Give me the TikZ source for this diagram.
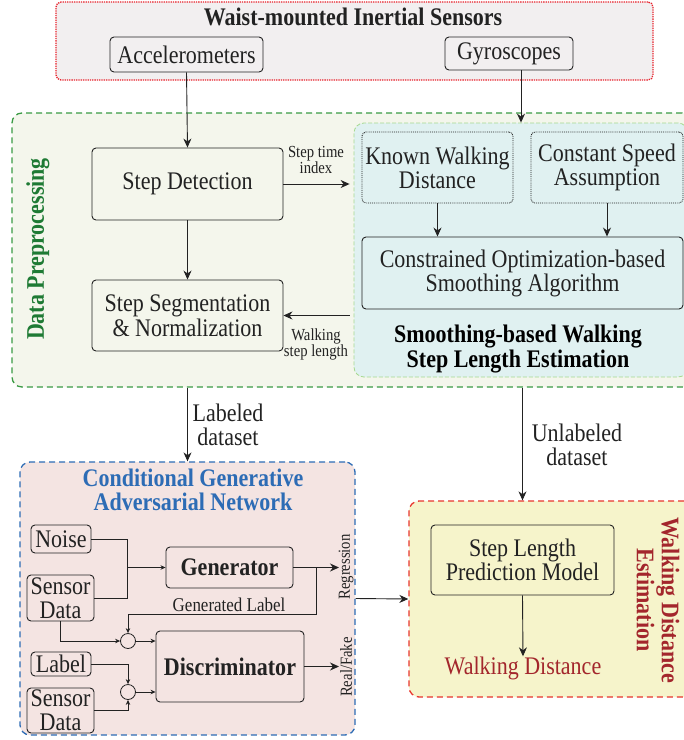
\documentclass[tikz,border=0pt]{standalone}
\usepackage{fontspec}
% Times-metric serif, set slightly condensed so the letters stand taller
\setmainfont{Liberation Serif}[FakeStretch=0.87]
\usetikzlibrary{arrows.meta}

\definecolor{sensfill}{HTML}{F2EFF0}
\definecolor{sensdraw}{HTML}{E8202A}
\definecolor{dpfill}{HTML}{F4F6EC}
\definecolor{dpdraw}{HTML}{3A9A44}
\definecolor{dptext}{HTML}{1E7A34}
\definecolor{smfill}{HTML}{E0F1F1}
\definecolor{smdraw}{HTML}{A6D98F}
\definecolor{cgfill}{HTML}{F4E4E2}
\definecolor{cgdraw}{HTML}{2D6CB5}
\definecolor{wdfill}{HTML}{F6F4CB}
\definecolor{wddraw}{HTML}{E8352D}
\definecolor{wdtext}{HTML}{A3262C}
\definecolor{ink}{HTML}{222222}

\newcommand\bigsize{\fontsize{25.3}{24}\selectfont}
\newcommand\smallsize{\fontsize{16.9}{16}\selectfont}

\tikzset{
  big/.style={font=\bigsize},
  bigbf/.style={font=\bigsize\bfseries},
  small/.style={font=\smallsize},
  frame/.style={rounded corners=10pt, line width=1.3pt, dash pattern=on 6pt off 4pt, inner sep=0pt},
  box/.style={draw=ink, rounded corners=4pt, line width=0.9pt, align=center, inner sep=0pt, big, text=ink},
  dotbox/.style={box, densely dotted, line width=0.9pt},
  arr/.style={draw=ink, line width=0.9pt, -{Stealth[length=9pt,width=8pt]}},
  sarr/.style={draw=ink, line width=0.8pt, -{Stealth[length=5pt,width=4.5pt]}},
  wire/.style={draw=ink, line width=0.8pt},
  lbl/.style={text=ink, align=center, inner sep=0pt},
  junc/.style={circle, draw=ink, line width=0.8pt, minimum size=15pt, inner sep=0pt},
}

\begin{document}
\begin{tikzpicture}[x=1pt,y=-1pt]
\useasboundingbox (0,0) rectangle (684,740);
\clip (0,0) rectangle (684,740);

% ---- group frames ----
\node[frame, draw=sensdraw, fill=sensfill, densely dotted, rounded corners=5pt,
      minimum width=597pt, minimum height=78pt] (sens) at (354.5,41) {};
\node[frame, draw=dpdraw, fill=dpfill, minimum width=680pt, minimum height=274pt] (dp) at (352,250) {};
\node[frame, draw=smdraw, fill=smfill, line width=0.8pt, dash pattern=on 4pt off 2pt,
      minimum width=334pt, minimum height=254pt] (smooth) at (521,250) {};
\node[frame, draw=cgdraw, fill=cgfill, minimum width=335pt, minimum height=273pt] (cgan) at (187.5,598.5) {};
\node[frame, draw=wddraw, fill=wdfill, minimum width=285pt, minimum height=196pt] (wde) at (551.5,599) {};

% ---- group titles ----
\node[lbl, bigbf] (senst) at (353,17) {Waist-mounted Inertial Sensors};
\node[lbl, bigbf, text=dptext, rotate=90] (dpt) at (38,249) {Data Preprocessing};
\node[lbl, font=\fontsize{25.3}{23}\selectfont\bfseries, text=black] (smt) at (518,349) {Smoothing-based Walking\\Step Length Estimation};
\node[lbl, bigbf, text=cgdraw] (cgt) at (193,490) {Conditional Generative\\Adversarial Network};
\node[lbl, font=\fontsize{25.3}{25}\selectfont\bfseries, text=wdtext, rotate=-90] (wdt) at (658,600) {Walking Distance\\Estimation};

% ---- sensors ----
\node[box, minimum width=153pt, minimum height=35pt] (acc) at (186.5,54.5) {Accelerometers};
\node[box, minimum width=128pt, minimum height=33pt] (gyro) at (509,53.5) {Gyroscopes};

% ---- preprocessing ----
\node[box, minimum width=191pt, minimum height=72pt] (sdet) at (187.5,184) {Step Detection};
\node[box, minimum width=191pt, minimum height=71pt, font=\fontsize{25.3}{25}\selectfont] (sseg) at (187.5,315.5) {Step Segmentation\\\& Normalization};

% ---- smoothing ----
\node[dotbox, minimum width=151pt, minimum height=71pt] (known) at (437.5,167.5) {Known Walking\\Distance};
\node[dotbox, minimum width=152pt, minimum height=71pt] (const) at (607,167.5) {Constant Speed\\Assumption};
\node[box, minimum width=321pt, minimum height=72pt] (copt) at (522.5,273) {Constrained Optimization-based\\Smoothing Algorithm};

% ---- CGAN ----
\node[box, minimum width=60pt, minimum height=28pt] (noise) at (61,539) {Noise};
\node[box, minimum width=67pt, minimum height=46pt] (sd1) at (60.5,598) {Sensor\\Data};
\node[box, minimum width=60pt, minimum height=24pt] (label) at (61,664) {Label};
\node[box, minimum width=67pt, minimum height=45pt] (sd2) at (60.5,710.5) {Sensor\\Data};
\node[box, minimum width=127pt, minimum height=41pt, bigbf] (gen) at (229.5,567.5) {Generator};
\node[box, minimum width=148pt, minimum height=71pt, bigbf] (disc) at (230,666.5) {Discriminator};
\node[junc] (c1) at (128,641) {};
\node[junc] (c2) at (128,692) {};

% ---- walking distance ----
\node[box, minimum width=183pt, minimum height=70pt] (slpm) at (522.5,560) {Step Length\\Prediction Model};
\node[lbl, big, text=wdtext] (wdist) at (523,668) {Walking Distance};

% ---- connectors: upper part ----
\draw[arr] (acc.south) -- (sdet.north);
\draw[arr] (gyro.south -| smooth.north) -- (smooth.north);
\draw[arr] (sdet.east) -- ([xshift=-4pt]sdet.east -| smooth.west);
\node[lbl, small] (sti) at (316,160) {Step time\\index};
\draw[arr] (sdet.south) -- (sseg.north);
\draw[arr] ([xshift=-4pt]sseg.east -| smooth.west) -- (sseg.east);
\node[lbl, small] (wsl) at (316,344) {Walking\\step length};
\draw[arr] (known.south) -- (known.south |- copt.north);
\draw[arr] (const.south) -- (const.south |- copt.north);

% ---- datasets ----
\draw[arr] (dp.south -| sdet.south) -- (cgan.north -| sdet.south);
\node[lbl, big] (ld) at (228,425) {Labeled\\dataset};
\draw[arr] (dp.south -| slpm.north) -- (wde.north -| slpm.north);
\node[lbl, big] (ud) at (577,445) {Unlabeled\\dataset};

% ---- CGAN wiring ----
\coordinate (jn) at (127,567.5);
\draw[wire] (noise.east) -| (jn);
\draw[wire] (sd1.east) -| (jn);
\draw[sarr] (jn) -- (gen.west);
\coordinate (reg) at (339,567.5);
\draw[arr] (gen.east) -- (reg);
\node[lbl, small, rotate=90] (regt) at (346,567) {Regression};
\coordinate (gl) at (316,567.5);
\coordinate (glb) at (316,614);
\draw[sarr] (gl) -- (glb) -| (c1.north);
\node[lbl, font=\fontsize{19.5}{18}\selectfont] (glt) at (229,605) {Generated Label};
\draw[sarr] (sd1.south) |- (c1.west);
\draw[sarr] (c1.east) -- (c1.east -| disc.west);
\draw[sarr] (label.east) -| (c2.north);
\draw[sarr] (sd2.east) -| (c2.south);
\draw[sarr] (c2.east) -- (c2.east -| disc.west);
\coordinate (rf) at (339,666.5);
\draw[arr] (disc.east) -- (rf);
\node[lbl, small, rotate=90] (rft) at (346,667) {Real/Fake};

% ---- to walking distance estimation ----
\draw[arr] (cgan.east) -- (wde.west);
\draw[arr] (slpm.south) -- (wdist.north);
\end{tikzpicture}
\end{document}
